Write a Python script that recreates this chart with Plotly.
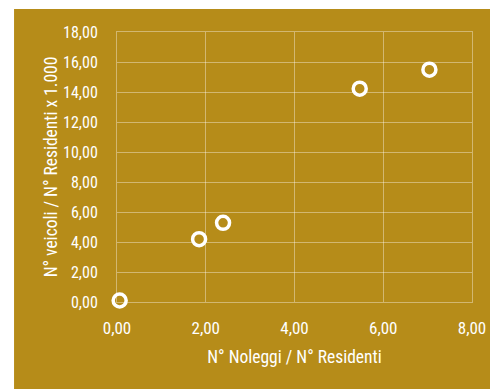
import plotly.graph_objects as go

# rapporto noleggi / residenti vs veicoli / residenti x 1.000
noleggi_residenti = [0.06, 1.85, 2.39, 5.47, 7.04]
veicoli_residenti = [0.10, 4.19, 5.28, 14.22, 15.49]

gold = "#B68C19"
grid = "rgba(255,255,255,0.38)"
font_family = "Roboto Condensed, Roboto, sans-serif"

fig = go.Figure()
fig.add_trace(go.Scatter(
    x=noleggi_residenti, y=veicoli_residenti, mode="markers",
    marker=dict(size=13, color=gold, line=dict(color="white", width=3.5)),
    cliponaxis=False, showlegend=False,
))

# gold panel behind everything, leaving a white strip top/left
fig.add_shape(type="rect", xref="paper", yref="paper",
              x0=-0.29, x1=1.1, y0=-0.35, y1=1.085,
              fillcolor=gold, line_width=0, layer="below")

# page body has an 8px margin, so the figure is shrunk to fit the window
fig.update_layout(
    width=490, height=381,
    margin=dict(l=109, r=26, t=24, b=87),
    paper_bgcolor="white", plot_bgcolor="rgba(0,0,0,0)",
    separators=",.",
    font=dict(family=font_family, color="white", size=16),
)
fig.update_xaxes(
    range=[0, 8], dtick=2, tickformat=".2f",
    showgrid=True, gridcolor=grid, gridwidth=1,
    showline=True, linecolor=grid, mirror=True, zeroline=False,
    ticks="outside", ticklen=11, tickcolor="rgba(0,0,0,0)",
    tickfont=dict(size=17),
    title=dict(text="N° Noleggi / N° Residenti", font=dict(size=17.5), standoff=13),
)
fig.update_yaxes(
    range=[0, 18], dtick=2, tickformat=".2f",
    showgrid=True, gridcolor=grid, gridwidth=1,
    showline=True, linecolor=grid, mirror=True, zeroline=False,
    ticks="outside", ticklen=15, tickcolor="rgba(0,0,0,0)",
    tickfont=dict(size=16),
    title=dict(text="N° veicoli / N° Residenti x 1.000", font=dict(size=17.5), standoff=0),
)

fig.write_html("out.html")
